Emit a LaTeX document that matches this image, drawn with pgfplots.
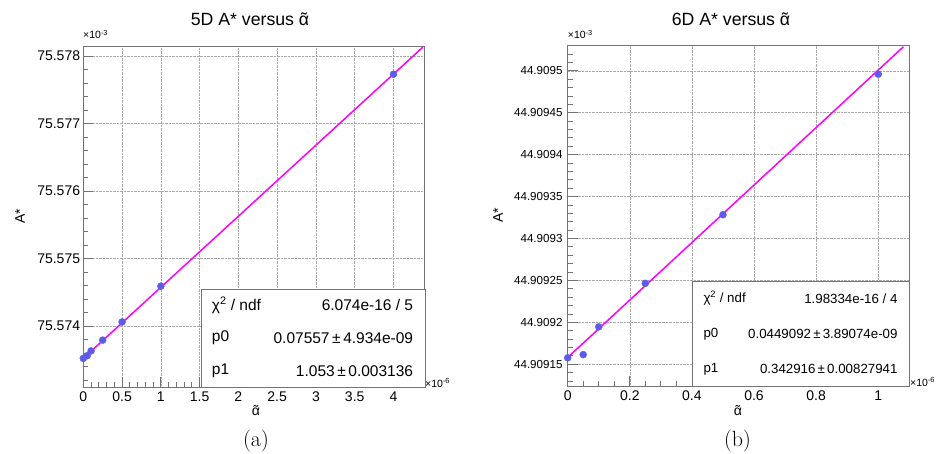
\documentclass[border=0pt]{standalone}
\usepackage{fontspec}
\usepackage{pgfplots}
\pgfplotsset{compat=1.18}
\newfontfamily\arial{Liberation Sans}

\definecolor{rootblue}{RGB}{92,92,232}
\definecolor{rootmagenta}{RGB}{255,0,255}
\definecolor{framegray}{RGB}{115,115,115}
\definecolor{gridgray}{RGB}{170,170,170}

% alpha with a tilde set over it
\newcommand\atilde{\leavevmode\hbox{\ooalign{α\cr\hidewidth\raisebox{0.05em}{˜}\hidewidth\cr}}}

% ROOT-like frame: inward ticks on left/bottom, dotted major grid
\pgfplotsset{rootstyle/.style={
  scale only axis, clip=false,
  axis line style={framegray, line width=0.8pt},
  tick align=inside, xtick pos=left, ytick pos=left,
  major tick length=10pt, minor tick length=5pt,
  tick style={framegray, line width=0.8pt},
  grid=major, major grid style={gridgray, densely dotted, line width=0.6pt},
  tick label style={font=\arial\fontsize{14}{14}\selectfont, text=black},
  xticklabel style={inner sep=0pt, yshift=-5pt},
  yticklabel style={inner sep=0pt, xshift=-3pt},
}}

\begin{document}
\begin{tikzpicture}
\path[use as bounding box] (0pt,0pt) rectangle (938pt,454pt);

% ---------------- (a) 5D ----------------
% y is (A* x 10^3 - 75.573) x 10^3, x is alpha x 10^6
\begin{axis}[rootstyle, at={(83.3pt,67pt)}, anchor=south west,
  width=341.2pt, height=341pt,
  xmin=0, xmax=4.4, ymin=0.096, ymax=5.148,
  xtick={0,0.5,1,1.5,2,2.5,3,3.5,4},
  xticklabels={0,0.5,1,1.5,2,2.5,3,3.5,4},
  minor xtick={0.1,0.2,0.3,0.4,0.6,0.7,0.8,0.9,1.1,1.2,1.3,1.4,1.6,1.7,1.8,1.9,2.1,2.2,2.3,2.4,2.6,2.7,2.8,2.9,3.1,3.2,3.3,3.4,3.6,3.7,3.8,3.9,4.1,4.2,4.3,4.4},
  ytick={1,2,3,4,5},
  yticklabels={75.574,75.575,75.576,75.577,75.578},
  minor ytick={0.2,0.4,0.6,0.8,1.2,1.4,1.6,1.8,2.2,2.4,2.6,2.8,3.2,3.4,3.6,3.8,4.2,4.4,4.6,4.8},
]
\addplot[only marks, mark=*, mark size=3.5pt, color=rootblue]
  coordinates {(0,0.52) (0.05,0.56) (0.1,0.63) (0.25,0.79) (0.5,1.06) (1,1.59) (4,4.73)};
\addplot[rootmagenta, line width=1.5pt] coordinates {(0,0.52) (4.38,5.132)};
\end{axis}

% ---------------- (b) 6D ----------------
% y is (A* x 10^3 - 44.909) x 10^5, x is alpha x 10^6
\begin{axis}[rootstyle, at={(567.7pt,68pt)}, anchor=south west,
  width=341.6pt, height=340.3pt,
  xmin=0, xmax=1.1, ymin=12.4, ymax=53.0,
  xtick={0,0.2,0.4,0.6,0.8,1},
  xticklabels={0,0.2,0.4,0.6,0.8,1},
  minor xtick={0.05,0.1,0.15,0.25,0.3,0.35,0.45,0.5,0.55,0.65,0.7,0.75,0.85,0.9,0.95,1.05,1.1},
  ytick={15,20,25,30,35,40,45,50},
  yticklabels={44.90915,44.9092,44.90925,44.9093,44.90935,44.9094,44.90945,44.9095},
  yticklabel style={font=\arial\fontsize{11.6}{11.6}\selectfont, xshift=-2pt},
  minor ytick={13,14,16,17,18,19,21,22,23,24,26,27,28,29,31,32,33,34,36,37,38,39,41,42,43,44,46,47,48,49,51,52,53},
]
\addplot[only marks, mark=*, mark size=3.5pt, color=rootblue]
  coordinates {(0,15.76) (0.05,16.14) (0.1,19.45) (0.25,24.65) (0.5,32.83) (1,49.6)};
\addplot[rootmagenta, line width=1.5pt] coordinates {(0,15.8) (1.081,52.87)};
\end{axis}

% titles
\node[anchor=base, inner sep=0pt, font=\arial\fontsize{17.7}{17.7}\selectfont] at (250pt,428pt) {5D A* versus \atilde};
\node[anchor=base, inner sep=0pt, font=\arial\fontsize{17.7}{17.7}\selectfont] at (731pt,428pt) {6D A* versus \atilde};

% exponent markers
\node[anchor=base west, inner sep=0pt, font=\arial\fontsize{10.5}{10.5}\selectfont] at (83pt,415pt) {×10\textsuperscript{-3}};
\node[anchor=base west, inner sep=0pt, font=\arial\fontsize{10.5}{10.5}\selectfont] at (567.7pt,415pt) {×10\textsuperscript{-3}};
\node[anchor=base west, inner sep=0pt, font=\arial\fontsize{10.5}{10.5}\selectfont] at (425pt,66.5pt) {×10\textsuperscript{-6}};
\node[anchor=base west, inner sep=0pt, font=\arial\fontsize{10.5}{10.5}\selectfont] at (910pt,67.5pt) {×10\textsuperscript{-6}};

% axis titles
\node[rotate=90, inner sep=0pt, font=\arial\fontsize{14}{14}\selectfont] at (20pt,238pt) {A*};
\node[rotate=90, inner sep=0pt, font=\arial\fontsize{14}{14}\selectfont] at (498pt,239pt) {A*};
\node[inner sep=0pt, font=\arial\fontsize{14}{14}\selectfont] at (256pt,42pt) {\atilde};
\node[inner sep=0pt, font=\arial\fontsize{14}{14}\selectfont] at (738pt,42pt) {\atilde};

% fit statistics boxes
\draw[framegray, line width=0.8pt, fill=white] (201pt,67pt) rectangle (425pt,165pt);
\begin{scope}[every node/.style={inner sep=0pt, font=\arial\fontsize{15.5}{15.5}\selectfont}]
\node[anchor=west] at (211.7pt,148.7pt) {χ\textsuperscript{2} / ndf};
\node[anchor=east] at (413.3pt,148.7pt) {6.074e-16 / 5};
\node[anchor=west] at (211.7pt,116pt) {p0};
\node[anchor=east] at (413.3pt,116pt) {0.07557\,±\,4.934e-09};
\node[anchor=west] at (211.7pt,83.3pt) {p1};
\node[anchor=east] at (413.3pt,83.3pt) {1.053\,±\,0.003136};
\end{scope}

\draw[framegray, line width=0.8pt, fill=white] (692.7pt,68pt) rectangle (909.3pt,173pt);
\begin{scope}[every node/.style={inner sep=0pt, font=\arial\fontsize{13.3}{13.3}\selectfont}]
\node[anchor=west] at (703.3pt,155.7pt) {χ\textsuperscript{2} / ndf};
\node[anchor=east] at (897.7pt,155.7pt) {1.98334e-16 / 4};
\node[anchor=west] at (703.3pt,120pt) {p0};
\node[anchor=east] at (897.7pt,120pt) {0.0449092\,±\,3.89074e-09};
\node[anchor=west] at (703.3pt,85pt) {p1};
\node[anchor=east] at (897.7pt,85pt) {0.342916\,±\,0.00827941};
\end{scope}

% panel captions
\node[anchor=base, inner sep=0pt, font=\fontsize{22}{22}\selectfont] at (256pt,7pt) {(a)};
\node[anchor=base, inner sep=0pt, font=\fontsize{22}{22}\selectfont] at (737.5pt,7pt) {(b)};
\end{tikzpicture}
\end{document}
